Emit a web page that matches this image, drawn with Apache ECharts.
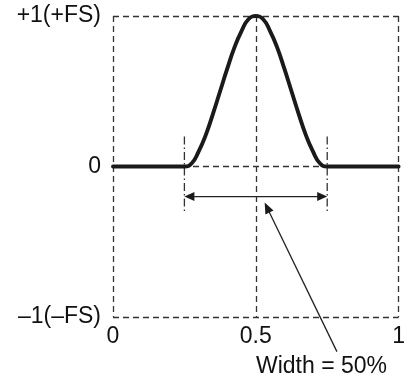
<!DOCTYPE html>
<html>
<head>
<meta charset="utf-8">
<script src="https://cdn.jsdelivr.net/npm/echarts@6/dist/echarts.min.js"></script>
<style>
html,body{margin:0;padding:0;background:#fff;}
#c{width:408px;height:383px;}
</style>
</head>
<body>
<div id="c"></div>
<script>
// ---- data ----
const xTickLabels = ['0', '0.5', '1'];
const yTickLabels = ['–1(–FS)', '0', '+1(+FS)'];
const curveX = [0, 0.2, 0.25, 0.275, 0.3, 0.325, 0.35, 0.375, 0.4, 0.425, 0.45, 0.475, 0.5,
                0.525, 0.55, 0.575, 0.6, 0.625, 0.65, 0.675, 0.7, 0.725, 0.75, 0.8, 1];
const curveY = [0, 0, 0, 0.02, 0.10, 0.21, 0.35, 0.50, 0.65, 0.79, 0.90, 0.98, 1.00,
                0.98, 0.90, 0.79, 0.65, 0.50, 0.35, 0.21, 0.10, 0.02, 0, 0, 0];
const widthBounds = [0.25, 0.75];
const boundSpan = [0.20, -0.31];
const arrowLevel = -0.20;
const calloutTip = [0.531, -0.24];
const calloutEnd = [0.784, -1.23];
const calloutLabel = 'Width = 50%';
const calloutLabelAt = [0.73, -1.33];

const FONT = "'Liberation Sans', Arial, Helvetica, sans-serif";
const chart = echarts.init(document.getElementById('c'), null, {renderer: 'canvas'});
const dashStyle = {color: '#333', width: 1.3, type: [6, 4]};

chart.setOption({
  animation: false,
  backgroundColor: '#fff',
  grid: {left: 113, right: 8, top: 16, bottom: 66, containLabel: false},
  xAxis: {
    type: 'value', min: 0, max: 1, interval: 0.5,
    axisLine: {show: false}, axisTick: {show: false},
    splitLine: {show: true, lineStyle: dashStyle},
    axisLabel: {
      margin: 8, fontSize: 23, color: '#111', fontFamily: FONT,
      formatter: v => xTickLabels[Math.round(v * 2)]
    }
  },
  yAxis: {
    type: 'value', min: -1, max: 1, interval: 1,
    axisLine: {show: false}, axisTick: {show: false},
    splitLine: {show: true, lineStyle: dashStyle},
    axisLabel: {
      margin: 12, fontSize: 23, color: '#111', fontFamily: FONT,
      formatter: v => yTickLabels[Math.round(v) + 1]
    }
  },
  series: [{
    type: 'line',
    data: curveX.map((x, i) => [x, curveY[i]]),
    smooth: 0.5,
    symbol: 'none',
    lineStyle: {color: '#1a1a1a', width: 3.9, cap: 'round'},
    z: 5
  }]
});

function px(p) { return chart.convertToPixel({gridIndex: 0}, p); }
function head(tip, from, len, half) {
  const dx = tip[0] - from[0], dy = tip[1] - from[1];
  const L = Math.hypot(dx, dy), ux = dx / L, uy = dy / L;
  const bx = tip[0] - ux * len, by = tip[1] - uy * len;
  return [[tip[0], tip[1]], [bx - uy * half, by + ux * half], [bx + uy * half, by - ux * half]];
}

const g = [];
widthBounds.forEach(b => {
  const a = px([b, boundSpan[0]]), c = px([b, boundSpan[1]]);
  g.push({type: 'line', shape: {x1: a[0], y1: a[1], x2: c[0], y2: c[1]},
    style: {stroke: '#333', lineWidth: 1.3, lineDash: [8, 3, 1.5, 3]}, z: 3});
});
const L0 = px([widthBounds[0], arrowLevel]), L1 = px([widthBounds[1], arrowLevel]);
g.push({type: 'line', shape: {x1: L0[0] + 6, y1: L0[1], x2: L1[0] - 6, y2: L1[1]},
  style: {stroke: '#222', lineWidth: 1.4}, z: 6});
g.push({type: 'polygon', shape: {points: head(L0, L1, 10, 4.5)}, style: {fill: '#1a1a1a'}, z: 6});
g.push({type: 'polygon', shape: {points: head(L1, L0, 10, 4.5)}, style: {fill: '#1a1a1a'}, z: 6});
const T = px(calloutTip), E = px(calloutEnd);
const dx = T[0] - E[0], dy = T[1] - E[1], LL = Math.hypot(dx, dy);
g.push({type: 'line', shape: {x1: E[0], y1: E[1], x2: T[0] - dx / LL * 6, y2: T[1] - dy / LL * 6},
  style: {stroke: '#222', lineWidth: 1.3}, z: 6});
g.push({type: 'polygon', shape: {points: head(T, E, 11, 4.5)}, style: {fill: '#1a1a1a'}, z: 6});
const P = px(calloutLabelAt);
g.push({type: 'text', x: P[0], y: P[1], z: 6,
  style: {text: calloutLabel, font: '23px ' + FONT, fill: '#111', align: 'center', verticalAlign: 'middle'}});
chart.setOption({graphic: g});
</script>
</body>
</html>
